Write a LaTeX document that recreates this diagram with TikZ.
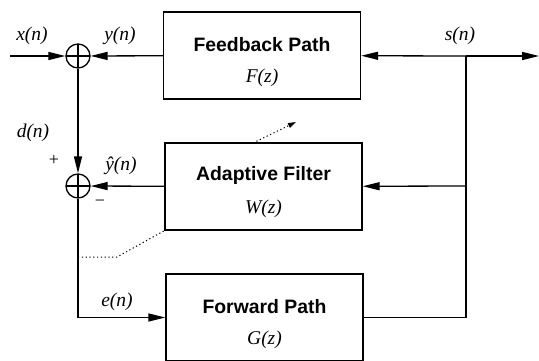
\documentclass[tikz,border=0pt]{standalone}
\usepackage{fontspec}
\setmainfont{Liberation Serif}
\setsansfont{Liberation Sans}
\usetikzlibrary{arrows.meta}
\begin{document}
\begin{tikzpicture}
	[x=1pt,y=-1pt,line width=1.3pt,
	 blk/.style={draw,minimum width=197pt,minimum height=87pt,inner sep=0pt},
	 ttl/.style={font=\fontsize{19.4}{21}\selectfont\sffamily\bfseries},
	 sig/.style={font=\fontsize{19.5}{21}\selectfont\itshape},
	 sumnode/.style={draw,circle,minimum size=24pt,inner sep=0pt,
	   path picture={\draw (path picture bounding box.north) -- (path picture bounding box.south)
	     (path picture bounding box.west) -- (path picture bounding box.east);}},
	 arr/.style={-{Triangle[length=17pt,width=8pt]}},
	 adapt/.style={line width=1pt,dash pattern=on 1.2pt off 2.6pt}]
\useasboundingbox (0,0) rectangle (539,360);
% blocks
\node[blk] (fb) at (262,55.5) {};
\node[blk] (adf) at (263.5,186.5) {};
\node[blk] (fwd) at (264.5,317.5) {};
\node[ttl] (fbt) at ([yshift=-33pt]fb.north) {Feedback Path};
\node[sig] (fbf) at ([yshift=-66pt]fb.north) {F(z)};
\node[ttl] (adft) at ([yshift=-33pt]adf.north) {Adaptive Filter};
\node[sig] (adff) at ([yshift=-66pt]adf.north) {W(z)};
\node[ttl] (fwdt) at ([yshift=-33pt]fwd.north) {Forward Path};
\node[sig] (fwdf) at ([yshift=-66pt]fwd.north) {G(z)};
% summing points
\node[sumnode] (s1) at (78,56) {};
\node[sumnode] (s2) at (78,186) {};
% free ends and branch points
\coordinate (in) at (10,56);
\coordinate (out) at (539,56);
\coordinate (br) at (466,56);
\coordinate (tap) at (466,186);
\coordinate (d1) at (78,257);
\coordinate (d2) at (117,257);
\coordinate (d3) at (253,143);
\coordinate (d4) at (296,122);
% connectors
\draw[arr] (in) -- (s1);
\draw[arr] (fb) -- (s1);
\draw[arr] (br) -- (out);
\draw[arr] (br) -- (fb);
\draw (fwd.east) -| (br);
\draw[arr] (tap) -- (adf);
\draw[arr] (adf) -- (s2);
\draw[arr] (s1) -- (s2);
\draw[arr] (s2) |- (fwd.west);
\draw[adapt] (d1) -- (d2) -- (adf.south west);
\draw[adapt,-{Triangle[length=8pt,width=5pt]}] (d3) -- (d4);
% labels
\node[sig] (lx) at (32,36) {x(n)};
\node[sig] (ly) at (120,36) {y(n)};
\node[sig] (ls) at (460,36) {s(n)};
\node[sig] (ld) at (33,133) {d(n)};
\node[sig] (lyh) at (121,166) {\^{y}(n)};
\node[sig] (le) at (117,302) {e(n)};
\node[font=\fontsize{18}{20}\selectfont] (lp) at (54,160) {+};
\node[font=\fontsize{18}{20}\selectfont] (lm) at (100,203) {−};
\end{tikzpicture}
\end{document}
